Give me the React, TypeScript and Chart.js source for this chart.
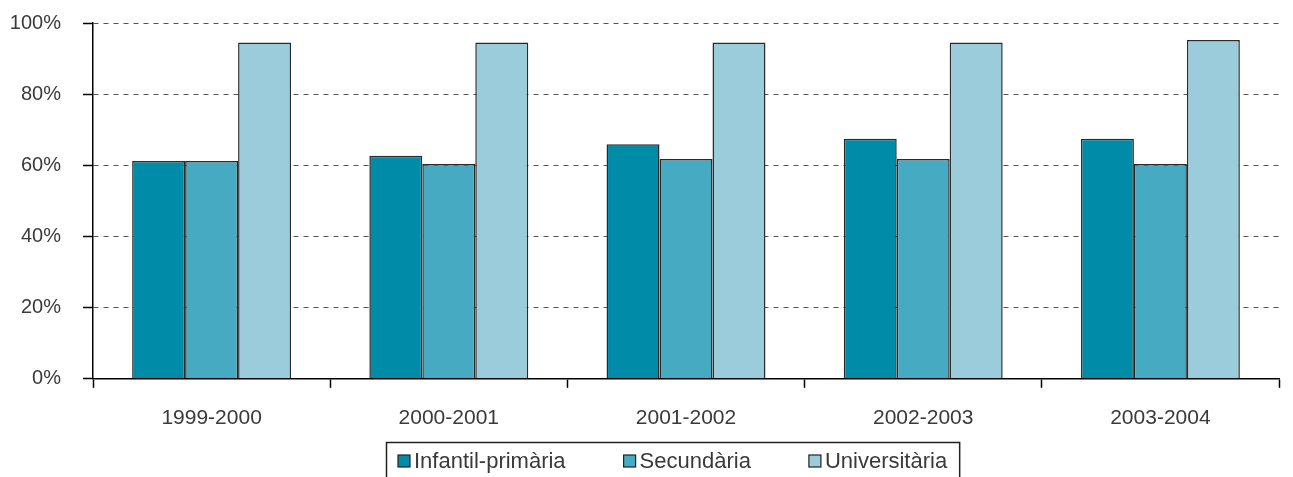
import React, { useEffect, useRef } from "react";
import { Chart, registerables } from "chart.js";

Chart.register(...registerables);

const categories = ["1999-2000", "2000-2001", "2001-2002", "2002-2003", "2003-2004"];
const seriesNames = ["Infantil-primària", "Secundària", "Universitària"];
const infantilPrimaria = [61.2, 62.7, 65.9, 67.5, 67.5];
const secundaria = [61.2, 60.4, 61.8, 61.8, 60.4];
const universitaria = [94.5, 94.5, 94.5, 94.5, 95.2];
const seriesColors = ["#008ba8", "#46abc2", "#9bccdc"];
const yTickValues = [0, 20, 40, 60, 80, 100];

const FONT = "'Liberation Sans', Arial, Helvetica, sans-serif";
const TEXT_COLOR = "#3a3a3a";

const boxedLegend = {
  id: "boxedLegend",
  afterDraw(chart: any) {
    const ctx = chart.ctx as CanvasRenderingContext2D;
    const area = chart.chartArea;
    ctx.save();
    ctx.font = `22px ${FONT}`;
    const sw = 12;
    const gap = 4;
    const itemGap = 58;
    const pad = 12;
    const items = chart.data.datasets.map((ds: any) => ({
      label: ds.label as string,
      color: ds.backgroundColor as string,
      w: ctx.measureText(ds.label).width,
    }));
    const total =
      items.reduce((s: number, it: any) => s + sw + gap + it.w, 0) +
      itemGap * (items.length - 1) +
      pad * 2;
    const cx = (area.left + area.right) / 2 - 13;
    const left = Math.round(cx - total / 2);
    const top = Math.round(area.bottom + 63);
    ctx.strokeStyle = "#222";
    ctx.lineWidth = 1.5;
    ctx.strokeRect(left + 0.5, top + 0.5, total, chart.height - top + 6);
    let x = left + pad;
    const cy = top + 19;
    items.forEach((it: any) => {
      ctx.fillStyle = it.color;
      ctx.fillRect(x, cy - 6, sw, sw);
      ctx.strokeStyle = "#222";
      ctx.lineWidth = 1.2;
      ctx.strokeRect(x, cy - 6, sw, sw);
      ctx.fillStyle = TEXT_COLOR;
      ctx.textBaseline = "middle";
      ctx.textAlign = "left";
      ctx.fillText(it.label, x + sw + gap, cy + 1);
      x += sw + gap + it.w + itemGap;
    });
    ctx.restore();
  },
};

export default function App() {
  const canvasRef = useRef<HTMLCanvasElement | null>(null);

  useEffect(() => {
    if (!canvasRef.current) return;
    const values = [infantilPrimaria, secundaria, universitaria];
    const chart = new Chart(canvasRef.current, {
      type: "bar",
      data: {
        labels: categories,
        datasets: seriesNames.map((name, i) => ({
          label: name,
          data: values[i],
          backgroundColor: seriesColors[i],
          borderColor: "#2a2a2a",
          borderWidth: 1.5,
          categoryPercentage: 0.67,
          barPercentage: 1.0,
        })),
      },
      options: {
        animation: false,
        responsive: true,
        maintainAspectRatio: false,
        layout: { padding: { top: 23, left: 9, right: 14, bottom: 28 } },
        plugins: {
          legend: { display: false },
          tooltip: { enabled: false },
        },
        scales: {
          x: {
            offset: true,
            grid: {
              display: true,
              drawOnChartArea: false,
              offset: true,
              tickLength: 9,
              tickColor: "#000",
              tickWidth: 1.5,
            },
            border: { display: true, color: "#000", width: 1.5 },
            ticks: {
              color: TEXT_COLOR,
              font: { family: FONT, size: 21 },
              padding: 18,
              maxRotation: 0,
            },
          },
          y: {
            min: 0,
            max: 100,
            afterBuildTicks: (scale: any) => {
              scale.ticks = yTickValues.map((v) => ({ value: v }));
            },
            afterFit: (scale: any) => {
              scale.width = 84;
              scale.paddingTop = 0;
              scale.paddingBottom = 0;
            },
            grid: {
              color: "#555",
              lineWidth: 1,
              tickLength: 10,
              tickColor: "#000",
              tickWidth: 1.5,
              tickBorderDash: [],
            },
            border: { display: true, color: "#000", width: 1.5, dash: [5, 5] },
            ticks: {
              color: TEXT_COLOR,
              font: { family: FONT, size: 20 },
              padding: 22,
              callback: (v: any) => `${v}%`,
            },
          },
        },
      },
      plugins: [boxedLegend],
    });
    return () => chart.destroy();
  }, []);

  return (
    <div style={{ position: "absolute", left: 0, top: 0, width: 1293, height: 477, background: "#fff" }}>
      <canvas ref={canvasRef} />
    </div>
  );
}
